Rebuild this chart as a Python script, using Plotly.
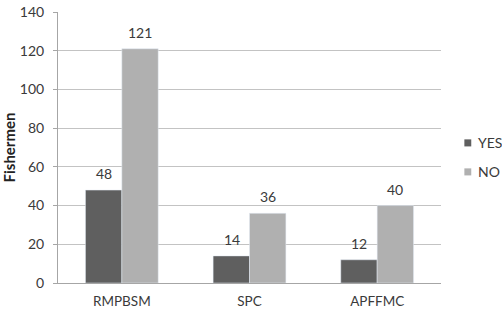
import plotly.graph_objects as go

categories = ["RMPBSM", "SPC", "APFFMC"]
yes_values = [48, 14, 12]
no_values = [121, 36, 40]
y_ticks = [0, 20, 40, 60, 80, 100, 120, 140]
series_names = ["YES", "NO"]
series_colors = ["#5f5f5f", "#b0b0b0"]

font = "Lato, Open Sans, sans-serif"
text_color = "#3a3a3a"

fig = go.Figure()
for name, vals, color in zip(series_names, [yes_values, no_values], series_colors):
    fig.add_trace(go.Bar(name=name, x=categories, y=vals, marker_color=color,
                         showlegend=False, hoverinfo="x+y"))

annotations = []
# value labels above bars
for shift, vals in zip([-18, 18], [yes_values, no_values]):
    for c, v in zip(categories, vals):
        annotations.append(dict(x=c, y=v, xref="x", yref="y", text=str(v), showarrow=False,
                                xshift=shift, yshift=6, yanchor="bottom",
                                font=dict(size=14, color=text_color, family=font)))

# legend drawn as small squares + text
legend_y = [0.517, 0.41]
shapes = []
for i, (name, color) in enumerate(zip(series_names, series_colors)):
    annotations.append(dict(x=1.091, y=legend_y[i], xref="paper", yref="paper", text=name,
                            showarrow=False, xanchor="left", yanchor="middle",
                            font=dict(size=14, color=text_color, family=font)))
    shapes.append(dict(type="rect", xref="paper", yref="paper",
                       x0=1.061, x1=1.079, y0=legend_y[i] - 0.013, y1=legend_y[i] + 0.013,
                       fillcolor=color, line=dict(width=0)))

fig.update_layout(
    width=502, height=311, autosize=False,
    margin=dict(l=58, r=61, t=12, b=28, autoexpand=False),
    paper_bgcolor="white", plot_bgcolor="white",
    barmode="group", bargap=0.43, bargroupgap=0,
    font=dict(family=font, size=14, color=text_color),
    showlegend=False,
    annotations=annotations, shapes=shapes,
    xaxis=dict(showline=True, linecolor="#a6a6a6", linewidth=1, ticks="",
               automargin=False, ticklabelstandoff=6,
               tickfont=dict(size=13.5, color=text_color)),
    yaxis=dict(range=[0, 140], tickvals=y_ticks, showgrid=True, gridcolor="#c3c3c3",
               showline=True, linecolor="#a6a6a6", ticks="outside", ticklen=4,
               tickcolor="#a6a6a6", zeroline=False, automargin=False,
               ticklabelstandoff=6,
               title=dict(text="<b>Fishermen</b>", font=dict(size=15, color="#222222"), standoff=4),
               tickfont=dict(size=14, color=text_color)),
)

fig.write_html("out.html", config={"displayModeBar": False},
               post_script="document.body.style.margin='0';")
